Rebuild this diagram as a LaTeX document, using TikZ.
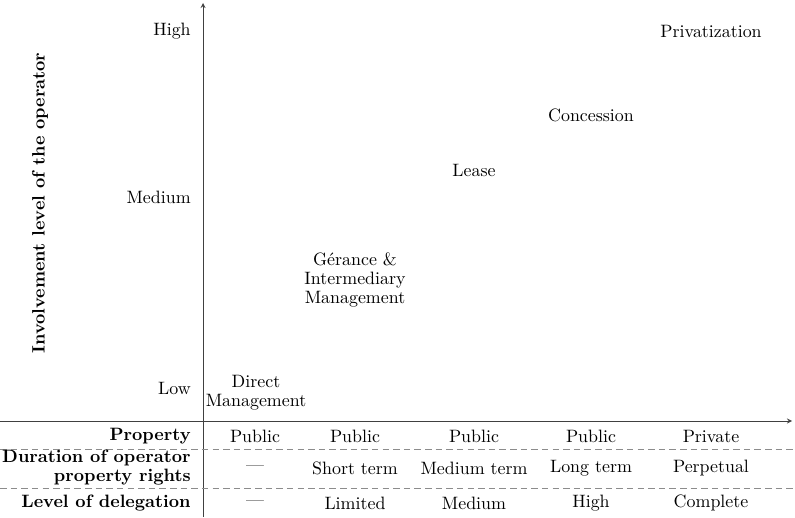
\documentclass[tikz,border=0pt]{standalone}
\usepackage{amsmath}
\usepackage{xcolor}
\usepackage{tikz}
\usetikzlibrary{positioning,arrows}

\begin{document}
\begin{tikzpicture}[x=0.0215cm, y=-0.0215cm,
                every node/.append style = {font = \fontsize{10.95}{11.6}\selectfont},
                axis/.style = {draw=black!75, thin, ->, >=stealth},
                sep/.style = {draw=black!45, thin, dash pattern=on 4pt off 2.5pt},
                tick/.style = {anchor = east, inner sep = 0pt},
                rowlabel/.style = {anchor = east, inner sep = 0pt, font = \fontsize{10.95}{11.6}\selectfont\bfseries, align = right},
                cell/.style = {anchor = center, inner sep = 0pt},
                form/.style = {anchor = center, inner sep = 0pt, align = center}]
            \useasboundingbox (0,0) rectangle (795,518);
            % axes
            \coordinate (origin) at (203,421);
            \coordinate (ytop) at (203,3);
            \coordinate (ybot) at (203,517);
            \coordinate (xleft) at (0,421);
            \coordinate (xright) at (792,421);
            \draw[axis] (ybot) -- (ytop);
            \draw[axis] (xleft) -- (xright);
            % dashed row separators
            \coordinate (sepa) at (0,449);
            \coordinate (sepae) at (795,449);
            \coordinate (sepb) at (0,488);
            \coordinate (sepbe) at (795,488);
            \draw[sep] (sepa) -- (sepae);
            \draw[sep] (sepb) -- (sepbe);
            % vertical axis
            \node[rotate=90, font=\fontsize{10.95}{11.6}\selectfont\bfseries] (ylabel) at (40,203) {Involvement level of the operator};
            \node[tick] (thigh) at (191,31) {High};
            \node[tick] (tmed) at (191,197) {Medium};
            \node[tick] (tlow) at (191,388) {Low};
            % forms of management
            \node[form] (fdirect) at (256,393) {Direct\\Management};
            \node[form] (fgerance) at (355,280) {G\'erance \&\\Intermediary\\Management};
            \node[form] (flease) at (474,170) {Lease};
            \node[form] (fconc) at (591,115) {Concession};
            \node[form] (fpriv) at (711,31) {Privatization};
            % table rows
            \node[rowlabel] (rprop) at (191,436) {Property};
            \node[rowlabel] (rdur) at (191,468) {Duration of operator\\property rights};
            \node[rowlabel] (rdel) at (191,503) {Level of delegation};
            \node[cell] (p1) at (255,436) {Public};
            \node[cell] (p2) at (355,436) {Public};
            \node[cell] (p3) at (474,436) {Public};
            \node[cell] (p4) at (591,436) {Public};
            \node[cell] (p5) at (711,436) {Private};
            \node[cell] (d1) at (255,468) {---};
            \node[cell] (d2) at (355,468) {Short term};
            \node[cell] (d3) at (474,468) {Medium term};
            \node[cell] (d4) at (591,468) {Long term};
            \node[cell] (d5) at (711,468) {Perpetual};
            \node[cell] (l1) at (255,503) {---};
            \node[cell] (l2) at (355,503) {Limited};
            \node[cell] (l3) at (474,503) {Medium};
            \node[cell] (l4) at (591,503) {High};
            \node[cell] (l5) at (711,503) {Complete};
\end{tikzpicture}
\end{document}
